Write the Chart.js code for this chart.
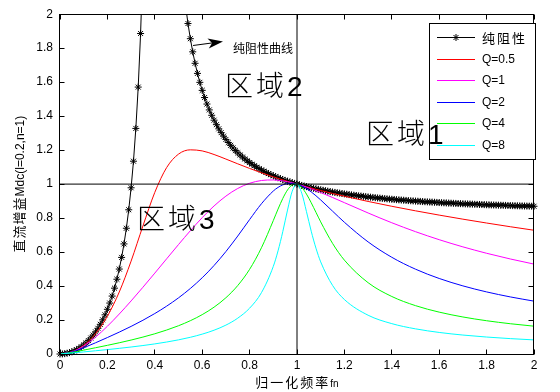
<!DOCTYPE html>
<html>
<head>
<meta charset="utf-8">
<script src="https://cdn.jsdelivr.net/npm/chart.js@4.4.0/dist/chart.umd.min.js"></script>
<style>
  html, body { margin: 0; padding: 0; background: #fff; }
  canvas { display: block; }
</style>
</head>
<body>
<canvas id="gainChart" width="560" height="392"></canvas>
<script>
// normalized frequency grid for the Q curves
const fnQ = [0, 0.05, 0.1, 0.15, 0.2, 0.25, 0.3, 0.35, 0.4, 0.45,
    0.5, 0.55, 0.6, 0.65, 0.7, 0.75, 0.8, 0.85, 0.9, 0.92,
    0.94, 0.96, 0.98, 1, 1.02, 1.04, 1.06, 1.08, 1.1, 1.15,
    1.2, 1.3, 1.4, 1.5, 1.6, 1.7, 1.8, 1.9, 2];

const gainQ05 = [0, 0.0126, 0.0514, 0.1197, 0.2225, 0.3648, 0.5468, 0.7541, 0.9513, 1.0975,
    1.1765, 1.2017, 1.1954, 1.1742, 1.1473, 1.1193, 1.0922, 1.0667, 1.0428, 1.0338,
    1.0250, 1.0164, 1.0081, 1, 0.9921, 0.9844, 0.9769, 0.9695, 0.9624, 0.9451,
    0.9287, 0.8979, 0.8694, 0.8427, 0.8175, 0.7936, 0.7709, 0.7491, 0.7284];
const gainQ1 = [0, 0.0123, 0.0471, 0.0992, 0.1633, 0.2353, 0.3124, 0.3930, 0.4761, 0.5603,
    0.6442, 0.7257, 0.8024, 0.8713, 0.9293, 0.9743, 1.0050, 1.0212, 1.0244, 1.0224,
    1.0189, 1.0138, 1.0075, 1, 0.9915, 0.9822, 0.9722, 0.9615, 0.9504, 0.9211,
    0.8907, 0.8300, 0.7725, 0.7200, 0.6728, 0.6306, 0.5929, 0.5593, 0.5291];
const gainQ2 = [0, 0.0113, 0.0366, 0.0661, 0.0969, 0.1288, 0.1625, 0.1987, 0.2381, 0.2816,
    0.3304, 0.3857, 0.4487, 0.5209, 0.6030, 0.6943, 0.7911, 0.8844, 0.9593, 0.9805,
    0.9954, 1.0035, 1.0050, 1, 0.9892, 0.9736, 0.9540, 0.9314, 0.9067, 0.8408,
    0.7753, 0.6598, 0.5692, 0.4992, 0.4445, 0.4009, 0.3654, 0.3360, 0.3112];
const gainQ4 = [0, 0.0089, 0.0228, 0.0368, 0.0511, 0.0661, 0.0821, 0.0996, 0.1190, 0.1410,
    0.1663, 0.1960, 0.2317, 0.2757, 0.3311, 0.4030, 0.4983, 0.6253, 0.7853, 0.8529,
    0.9154, 0.9654, 0.9952, 1, 0.9802, 0.9412, 0.8902, 0.8340, 0.7776, 0.6512,
    0.5524, 0.4197, 0.3385, 0.2846, 0.2464, 0.2179, 0.1958, 0.1782, 0.1637];
const gainQ8 = [0, 0.0056, 0.0123, 0.0190, 0.0259, 0.0333, 0.0412, 0.0498, 0.0595, 0.0705,
    0.0833, 0.0984, 0.1169, 0.1400, 0.1700, 0.2109, 0.2697, 0.3610, 0.5157, 0.6071,
    0.7200, 0.8472, 0.9587, 1, 0.9466, 0.8379, 0.7227, 0.6229, 0.5421, 0.4038,
    0.3206, 0.2282, 0.1787, 0.1480, 0.1269, 0.1115, 0.0998, 0.0905, 0.0830];

// purely resistive curve, both branches (gap at the pole)
const fnRes = [0, 0.01, 0.02, 0.03, 0.04, 0.05, 0.06, 0.07, 0.08, 0.09,
    0.1, 0.11, 0.12, 0.13, 0.14, 0.15, 0.16, 0.17, 0.18, 0.19,
    0.2, 0.21, 0.22, 0.23, 0.24, 0.25, 0.26, 0.27, 0.28, 0.29,
    0.3, 0.31, 0.32, 0.33, 0.34, 0.35,
    0.44,
    0.53, 0.54, 0.55, 0.56, 0.57, 0.58, 0.59,
    0.6, 0.61, 0.62, 0.63, 0.64, 0.65, 0.66, 0.67, 0.68, 0.69,
    0.7, 0.71, 0.72, 0.73, 0.74, 0.75, 0.76, 0.77, 0.78, 0.79,
    0.8, 0.81, 0.82, 0.83, 0.84, 0.85, 0.86, 0.87, 0.88, 0.89,
    0.9, 0.91, 0.92, 0.93, 0.94, 0.95, 0.96, 0.97, 0.98, 0.99,
    1, 1.01, 1.02, 1.03, 1.04, 1.05, 1.06, 1.07, 1.08, 1.09,
    1.1, 1.11, 1.12, 1.13, 1.14, 1.15, 1.16, 1.17, 1.18, 1.19,
    1.2, 1.21, 1.22, 1.23, 1.24, 1.25, 1.26, 1.27, 1.28, 1.29,
    1.3, 1.31, 1.32, 1.33, 1.34, 1.35, 1.36, 1.37, 1.38, 1.39,
    1.4, 1.41, 1.42, 1.43, 1.44, 1.45, 1.46, 1.47, 1.48, 1.49,
    1.5, 1.51, 1.52, 1.53, 1.54, 1.55, 1.56, 1.57, 1.58, 1.59,
    1.6, 1.61, 1.62, 1.63, 1.64, 1.65, 1.66, 1.67, 1.68, 1.69,
    1.7, 1.71, 1.72, 1.73, 1.74, 1.75, 1.76, 1.77, 1.78, 1.79,
    1.8, 1.81, 1.82, 1.83, 1.84, 1.85, 1.86, 1.87, 1.88, 1.89,
    1.9, 1.91, 1.92, 1.93, 1.94, 1.95, 1.96, 1.97, 1.98, 1.99,
    2];
const gainRes = [0, 0.0005, 0.0020, 0.0045, 0.0081, 0.0127, 0.0184, 0.0252, 0.0333, 0.0426,
    0.0532, 0.0652, 0.0788, 0.0940, 0.1111, 0.1301, 0.1512, 0.1748, 0.2011, 0.2304,
    0.2632, 0.2998, 0.3410, 0.3875, 0.4401, 0.5, 0.5686, 0.6479, 0.7402, 0.8488,
    0.9783, 1.1348, 1.3278, 1.5710, 1.8864, 2.3113,
    null,
    2.0492, 1.9450, 1.8558, 1.7786, 1.7111, 1.6516, 1.5989,
    1.5517, 1.5094, 1.4712, 1.4366, 1.4051, 1.3762, 1.3498, 1.3254, 1.3030, 1.2822,
    1.2629, 1.2449, 1.2282, 1.2126, 1.1979, 1.1842, 1.1713, 1.1592, 1.1478, 1.1370,
    1.1268, 1.1171, 1.1080, 1.0993, 1.0911, 1.0832, 1.0758, 1.0687, 1.0619, 1.0554,
    1.0492, 1.0433, 1.0377, 1.0323, 1.0271, 1.0221, 1.0173, 1.0127, 1.0083, 1.0041,
    1, 0.9961, 0.9923, 0.9887, 0.9851, 0.9818, 0.9785, 0.9753, 0.9723, 0.9693,
    0.9665, 0.9637, 0.9610, 0.9584, 0.9559, 0.9535, 0.9511, 0.9489, 0.9467, 0.9445,
    0.9424, 0.9404, 0.9384, 0.9365, 0.9346, 0.9328, 0.9311, 0.9294, 0.9277, 0.9261,
    0.9245, 0.9230, 0.9215, 0.9200, 0.9186, 0.9172, 0.9159, 0.9146, 0.9133, 0.9120,
    0.9108, 0.9096, 0.9084, 0.9073, 0.9062, 0.9051, 0.9040, 0.9030, 0.9020, 0.9010,
    0.9000, 0.8991, 0.8981, 0.8972, 0.8963, 0.8955, 0.8946, 0.8938, 0.8930, 0.8922,
    0.8914, 0.8906, 0.8899, 0.8891, 0.8884, 0.8877, 0.8870, 0.8863, 0.8856, 0.8850,
    0.8843, 0.8837, 0.8831, 0.8825, 0.8819, 0.8813, 0.8807, 0.8802, 0.8796, 0.8791,
    0.8785, 0.8780, 0.8775, 0.8770, 0.8765, 0.8760, 0.8755, 0.8750, 0.8746, 0.8741,
    0.8737, 0.8732, 0.8728, 0.8724, 0.8719, 0.8715, 0.8711, 0.8707, 0.8703, 0.8700,
    0.8696];

// the two reference lines (M = 1 and fn = 1)
const refLineX = [0, 2];
const refLineY = [1, 1];

const xTicks = [0, 0.2, 0.4, 0.6, 0.8, 1, 1.2, 1.4, 1.6, 1.8, 2];
const yTicks = [0, 0.2, 0.4, 0.6, 0.8, 1, 1.2, 1.4, 1.6, 1.8, 2];

const legendLabels = ['纯阻性', 'Q=0.5', 'Q=1', 'Q=2', 'Q=4', 'Q=8'];
const seriesColors = ['#000000', '#ff0000', '#ff00ff', '#0000ff', '#00ff00', '#00ffff'];
const regionLabels = ['区域1', '区域2', '区域3'];
const curveNote = '纯阻性曲线';
const xTitle = ['归一化频率', 'fn'];
const yTitle = ['直流增益', 'Mdc(l=0.2,n=1)'];

const CJK = '"Noto Sans CJK SC", sans-serif';
const LATIN = '"Liberation Sans", Arial, sans-serif';

function pts(xs, ys) {
    return xs.map((x, i) => ({ x: x, y: ys[i] }));
}

const qSeries = [gainQ05, gainQ1, gainQ2, gainQ4, gainQ8];

const datasets = [];
datasets.push({
    data: pts(fnRes, gainRes),
    borderColor: seriesColors[0],
    borderWidth: 1,
    pointStyle: 'star',
    pointRadius: 3.5,
    pointBorderWidth: 1,
    pointBorderColor: '#000',
    pointBackgroundColor: '#000',
    spanGaps: false,
    clip: { left: 5, right: 5, top: 0, bottom: 5 },
    order: 10
});
qSeries.forEach((s, i) => {
    datasets.push({
        data: pts(fnQ, s),
        borderColor: seriesColors[i + 1],
        borderWidth: 1,
        pointRadius: 0,
        cubicInterpolationMode: 'monotone',
        order: 5 - i
    });
});
// M = 1 horizontal and fn = 1 vertical
datasets.push({ data: pts(refLineX, refLineY), borderColor: '#000', borderWidth: 1, pointRadius: 0, order: 0 });
datasets.push({ data: pts(refLineY, refLineX), borderColor: '#000', borderWidth: 1, pointRadius: 0, order: 0 });

function textPieces(ctx, x, y, pieces) {
    // pieces: [text, font, spacing]
    let cx = x;
    pieces.forEach(p => {
        ctx.font = p[1];
        ctx.letterSpacing = p[2] || '0px';
        ctx.fillText(p[0], cx, y);
        cx += ctx.measureText(p[0]).width;
    });
    ctx.letterSpacing = '0px';
    return cx - x;
}

function piecesWidth(ctx, pieces) {
    let w = 0;
    pieces.forEach(p => {
        ctx.font = p[1];
        ctx.letterSpacing = p[2] || '0px';
        w += ctx.measureText(p[0]).width;
    });
    ctx.letterSpacing = '0px';
    return w;
}

const decorations = {
    id: 'decorations',
    afterDatasetsDraw(chart) {
        const ctx = chart.ctx;
        const { left, right, top, bottom } = chart.chartArea;
        const xs = chart.scales.x, ys = chart.scales.y;
        ctx.save();
        ctx.strokeStyle = '#000';
        ctx.fillStyle = '#000';
        ctx.lineWidth = 1;
        ctx.globalAlpha = 1;

        // box
        const L = Math.round(left) - 0.5, R = Math.round(right) - 0.5;
        const T = Math.round(top) + 0.5, B = Math.round(bottom) + 0.5;
        ctx.strokeRect(L, T, R - L, B - T);

        // inward ticks on all four sides
        ctx.beginPath();
        xTicks.forEach(v => {
            const px = Math.floor(xs.getPixelForValue(v)) + 0.5;
            ctx.moveTo(px, B); ctx.lineTo(px, B - 5);
            ctx.moveTo(px, T); ctx.lineTo(px, T + 5);
        });
        yTicks.forEach(v => {
            const py = Math.floor(ys.getPixelForValue(v)) + 0.5;
            ctx.moveTo(L, py); ctx.lineTo(L + 5, py);
            ctx.moveTo(R, py); ctx.lineTo(R - 5, py);
        });
        ctx.stroke();

        // legend
        const lgX = 429.5, lgY = 23.5, lgW = 106, lgH = 136;
        ctx.fillStyle = '#fff';
        ctx.fillRect(lgX, lgY, lgW, lgH);
        ctx.strokeStyle = '#000';
        ctx.strokeRect(lgX, lgY, lgW, lgH);
        ctx.textBaseline = 'middle';
        ctx.textAlign = 'left';
        legendLabels.forEach((lab, i) => {
            const ry = Math.round(37 + i * 21.6);
            ctx.fillStyle = seriesColors[i];
            ctx.fillRect(437, ry, 38, 1);
            if (i === 0) {
                ctx.strokeStyle = '#000';
                Chart.helpers.drawPoint(ctx, { pointStyle: 'star', radius: 3.5, borderWidth: 1, rotation: 0 }, 456, ry + 0.5);
            }
            ctx.fillStyle = '#000';
            if (i === 0) {
                ctx.font = '13px ' + CJK;
                ctx.letterSpacing = '2px';
            } else {
                ctx.font = '12px ' + LATIN;
                ctx.letterSpacing = '0px';
            }
            ctx.fillText(lab, 482, ry + 1);
        });
        ctx.letterSpacing = '0px';

        // region labels (drawn over the legend like the original)
        ctx.fillStyle = '#000';
        ctx.textBaseline = 'alphabetic';
        const regionPos = [[366, 144], [225, 96], [137, 229]];
        regionLabels.forEach((lab, i) => {
            textPieces(ctx, regionPos[i][0], regionPos[i][1], [
                [lab.slice(0, 2), '300 28px ' + CJK, '3px'],
                [lab.slice(2), '28px ' + LATIN, '0px']
            ]);
        });

        // note and arrow
        ctx.font = '12px ' + CJK;
        ctx.textBaseline = 'middle';
        ctx.fillText(curveNote, 233, 48);
        const sx = 193, sy = 45.5, tx = 223, ty = 41.5;
        const dx = tx - sx, dy = ty - sy, len = Math.hypot(dx, dy);
        const ux = dx / len, uy = dy / len, nx = -uy, ny = ux;
        ctx.strokeStyle = '#000';
        ctx.beginPath();
        ctx.moveTo(sx, sy); ctx.lineTo(tx - ux * 10, ty - uy * 10);
        ctx.stroke();
        ctx.beginPath();
        ctx.moveTo(tx, ty);
        ctx.lineTo(tx - ux * 15 + nx * 5, ty - uy * 15 + ny * 5);
        ctx.lineTo(tx - ux * 11, ty - uy * 11);
        ctx.lineTo(tx - ux * 15 - nx * 5, ty - uy * 15 - ny * 5);
        ctx.closePath();
        ctx.fill();

        // axis titles
        const xt = [[xTitle[0], '13px ' + CJK, '2px'], [xTitle[1], '10px ' + LATIN, '0px']];
        const xw = piecesWidth(ctx, xt);
        ctx.textBaseline = 'alphabetic';
        textPieces(ctx, (left + right) / 2 - xw / 2, 387, xt);

        const yt = [[yTitle[0], '13px ' + CJK, '1px'], [yTitle[1], '12px ' + LATIN, '0px']];
        const yw = piecesWidth(ctx, yt);
        ctx.save();
        ctx.translate(19, (top + bottom) / 2);
        ctx.rotate(-Math.PI / 2);
        textPieces(ctx, -yw / 2, 5, yt);
        ctx.restore();

        ctx.restore();
    }
};

const tickFont = { family: LATIN, size: 12 };

new Chart(document.getElementById('gainChart'), {
    type: 'line',
    data: { datasets: datasets },
    options: {
        responsive: false,
        animation: false,
        devicePixelRatio: 1,
        events: [],
        layout: { padding: { top: 14, right: 26, left: 0, bottom: 0 } },
        plugins: { legend: { display: false }, tooltip: { enabled: false } },
        scales: {
            x: {
                type: 'linear',
                min: 0,
                max: 2,
                afterBuildTicks: s => { s.ticks = xTicks.map(v => ({ value: v })); },
                afterFit: s => { s.height = 38; },
                grid: { display: false, drawTicks: false },
                border: { display: false },
                ticks: { padding: 4, color: '#000', font: tickFont, maxRotation: 0, autoSkip: false, callback: v => String(v) }
            },
            y: {
                type: 'linear',
                min: 0,
                max: 2,
                afterBuildTicks: s => { s.ticks = yTicks.map(v => ({ value: v })); },
                afterFit: s => { s.width = 60; },
                grid: { display: false, drawTicks: false },
                border: { display: false },
                ticks: { padding: 7, color: '#000', font: tickFont, autoSkip: false, callback: v => String(v) }
            }
        }
    },
    plugins: [decorations]
});
</script>
</body>
</html>
